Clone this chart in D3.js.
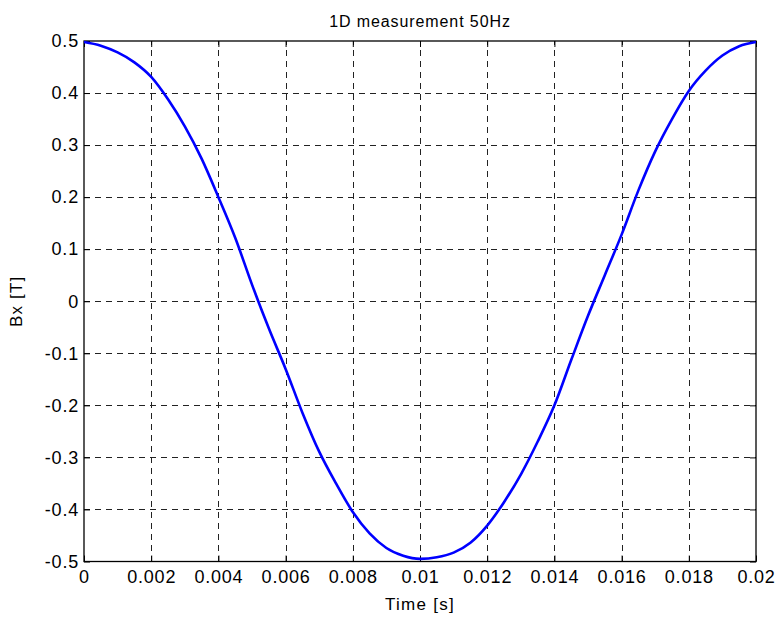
<!DOCTYPE html>
<html>
<head>
<meta charset="utf-8">
<script src="https://cdn.jsdelivr.net/npm/d3@7"></script>
<style>
  html, body { margin: 0; padding: 0; background: #fff; }
  svg { display: block; font-family: "Liberation Sans", Arial, sans-serif; }
</style>
</head>
<body>
<svg id="chart" width="780" height="619"></svg>
<script>
// ---- data ----
const timeValues = [
  0, 0.0005, 0.001, 0.0015, 0.002, 0.0025, 0.003, 0.0035, 0.004, 0.0045,
  0.005, 0.0055, 0.006, 0.0065, 0.007, 0.0075, 0.008, 0.0085, 0.009, 0.0095,
  0.01, 0.0105, 0.011, 0.0115, 0.012, 0.0125, 0.013, 0.0135, 0.014, 0.0145,
  0.015, 0.0155, 0.016, 0.0165, 0.017, 0.0175, 0.018, 0.0185, 0.019, 0.0195, 0.02
];
const bxValues = [
  0.498, 0.491, 0.478, 0.459, 0.431, 0.388, 0.336, 0.274, 0.200, 0.122,
  0.032, -0.052, -0.130, -0.214, -0.289, -0.350, -0.405, -0.446, -0.474, -0.489,
  -0.495, -0.492, -0.483, -0.464, -0.431, -0.386, -0.333, -0.270, -0.200, -0.113,
  -0.028, 0.050, 0.128, 0.213, 0.288, 0.350, 0.404, 0.443, 0.472, 0.490, 0.498
];
const xTicks = [0, 0.002, 0.004, 0.006, 0.008, 0.01, 0.012, 0.014, 0.016, 0.018, 0.02];
const xTickLabels = ["0", "0.002", "0.004", "0.006", "0.008", "0.01", "0.012", "0.014", "0.016", "0.018", "0.02"];
const yTicks = [-0.5, -0.4, -0.3, -0.2, -0.1, 0, 0.1, 0.2, 0.3, 0.4, 0.5];
const yTickLabels = ["-0.5", "-0.4", "-0.3", "-0.2", "-0.1", "0", "0.1", "0.2", "0.3", "0.4", "0.5"];
const titleText = "1D measurement 50Hz";
const xLabelText = "Time [s]";
const yLabelText = "Bx [T]";

// ---- layout ----
const L = 84, T = 41, R = 756, B = 561.5;
const svg = d3.select("#chart");
const x = d3.scaleLinear().domain([0, 0.02]).range([L, R]);
const y = d3.scaleLinear().domain([-0.5, 0.5]).range([B, T]);
const FONT = "'Liberation Sans', Arial, sans-serif";

// grid
const grid = svg.append("g").attr("stroke", "#222").attr("stroke-width", 1)
  .attr("stroke-dasharray", "6,5").attr("shape-rendering", "crispEdges");
grid.selectAll(".gx").data(xTicks.slice(1, -1)).enter().append("line")
  .attr("x1", d => Math.round(x(d)) + 0.5).attr("x2", d => Math.round(x(d)) + 0.5)
  .attr("y1", B).attr("y2", T);
grid.selectAll(".gy").data(yTicks.slice(1, -1)).enter().append("line")
  .attr("y1", d => Math.round(y(d)) + 0.5).attr("y2", d => Math.round(y(d)) + 0.5)
  .attr("x1", L).attr("x2", R);

// axes
const xAxis = d3.axisBottom(x).tickValues(xTicks)
  .tickFormat((d, i) => xTickLabels[i]).tickSizeInner(-6).tickSizeOuter(0).tickPadding(9);
const yAxis = d3.axisLeft(y).tickValues(yTicks)
  .tickFormat((d, i) => yTickLabels[i]).tickSizeInner(-6).tickSizeOuter(0).tickPadding(5);
const xAxisTop = d3.axisTop(x).tickValues(xTicks).tickFormat("").tickSizeInner(-6).tickSizeOuter(0);
const yAxisRight = d3.axisRight(y).tickValues(yTicks).tickFormat("").tickSizeInner(-6).tickSizeOuter(0);

function styleAxis(g) {
  g.select(".domain").remove();
  g.selectAll("line").attr("stroke", "#000");
  g.selectAll("text").attr("fill", "#000").style("font-size", "18px")
    .style("letter-spacing", "0.8px").style("font-family", FONT);
}
svg.append("g").attr("transform", `translate(0,${B})`).call(xAxis).call(styleAxis);
svg.append("g").attr("transform", `translate(${L},0)`).call(yAxis).call(styleAxis);
svg.append("g").attr("transform", `translate(0,${T})`).call(xAxisTop).call(styleAxis);
svg.append("g").attr("transform", `translate(${R},0)`).call(yAxisRight).call(styleAxis);

// box
svg.append("rect").attr("x", L).attr("y", T).attr("width", R - L).attr("height", B - T)
  .attr("fill", "none").attr("stroke", "#000").attr("stroke-width", 1.3);

// curve
const pts = timeValues.map((t, i) => [t, bxValues[i]]);
svg.append("path").datum(pts)
  .attr("fill", "none").attr("stroke", "#0000ff").attr("stroke-width", 2.6)
  .attr("stroke-linejoin", "round")
  .attr("d", d3.line().x(d => x(d[0])).y(d => y(d[1])).curve(d3.curveMonotoneX));

// texts
svg.append("text").attr("x", (L + R) / 2).attr("y", 27).attr("text-anchor", "middle")
  .style("font-size", "16px").style("letter-spacing", "0.9px").style("font-family", FONT)
  .text(titleText);
svg.append("text").attr("x", (L + R) / 2).attr("y", 610).attr("text-anchor", "middle")
  .style("font-size", "17px").style("letter-spacing", "1.3px").style("font-family", FONT)
  .text(xLabelText);
svg.append("text").attr("transform", `translate(22,${(T + B) / 2}) rotate(-90)`)
  .attr("text-anchor", "middle").style("font-size", "17px").style("letter-spacing", "1.2px")
  .style("font-family", FONT).text(yLabelText);
</script>
</body>
</html>
